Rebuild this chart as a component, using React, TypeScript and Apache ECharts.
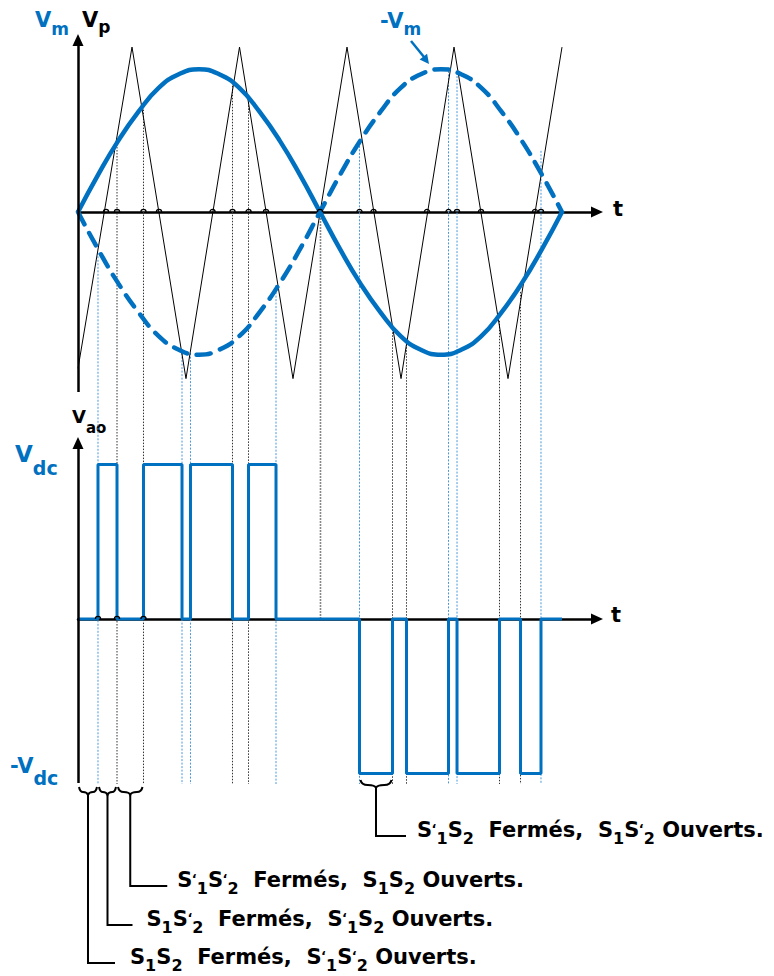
import React, { useEffect, useRef } from "react";
import * as echarts from "echarts";

// Time is a fraction of one period of the modulating wave.
const modT = [0, 0.0417, 0.0833, 0.125, 0.1667, 0.2083, 0.25, 0.2917, 0.3333, 0.375, 0.4167, 0.4583, 0.5, 0.5417, 0.5833, 0.625, 0.6667, 0.7083, 0.75, 0.7917, 0.8333, 0.875, 0.9167, 0.9583, 1];
// Modulating wave Vm and its inverse -Vm
const vm = [0, 0.22, 0.42, 0.59, 0.73, 0.81, 0.84, 0.81, 0.73, 0.59, 0.42, 0.22, 0, -0.22, -0.42, -0.59, -0.73, -0.81, -0.84, -0.81, -0.73, -0.59, -0.42, -0.22, 0];
const vmInv = [0, -0.22, -0.42, -0.59, -0.73, -0.81, -0.84, -0.81, -0.73, -0.59, -0.42, -0.22, 0, 0.22, 0.42, 0.59, 0.73, 0.81, 0.84, 0.81, 0.73, 0.59, 0.42, 0.22, 0];

// Triangular carrier Vp (vertices)
const carrierT = [0, 0.1116, 0.2231, 0.3337, 0.4442, 0.5558, 0.6674, 0.7769, 0.8884, 1];
const carrierV = [-0.92, 0.97, -0.98, 0.97, -0.98, 0.97, -0.98, 0.97, -0.98, 0.97];
// Where the carrier crosses the t axis
const carrierZeroT = [0.0579, 0.1674, 0.2779, 0.3884, 0.5, 0.6105, 0.7211, 0.8326, 0.9442];

// Switching instants: comparison of Vm / -Vm with the carrier
const switchT = [0.0413, 0.0806, 0.1353, 0.2149, 0.2324, 0.3192, 0.3523, 0.4091, 0.5816, 0.6498, 0.6787, 0.7655, 0.7831, 0.8709, 0.9143, 0.9566];
const switchLevel = [-0.24, 0.4, 0.62, -0.83, -0.83, 0.76, 0.68, -0.43, 0.41, -0.69, -0.76, 0.83, 0.82, -0.64, -0.47, 0.36];
const switchRef = ["-Vm", "Vm", "Vm", "-Vm", "-Vm", "Vm", "Vm", "-Vm", "-Vm", "Vm", "Vm", "-Vm", "-Vm", "Vm", "Vm", "-Vm"];
const zeroCrossT = 0.501;

// Output voltage Vao (in units of Vdc), level held from each instant
const vaoT = [0, 0.0413, 0.0806, 0.1353, 0.2149, 0.2324, 0.3192, 0.3523, 0.4091, 0.5816, 0.6498, 0.6787, 0.7655, 0.7831, 0.8709, 0.9143, 0.9566, 1];
const vaoLevel = [0, 1, 0, 1, 0, 1, 0, 1, 0, -1, 0, -1, 0, -1, 0, -1, 0, 0];
// Line jumps on the Vao time axis
const vaoHopT = [0.0413, 0.0806, 0.1353];

// Switch states over marked intervals
const stateFrom = [0, 0.0413, 0.0806, 0.5816];
const stateTo = [0.0413, 0.0806, 0.1353, 0.6498];
const stateText = [
  "S{1}S{2}  Fermés,  S{'1}S{'2} Ouverts.",
  "S{1}S{'2}  Fermés,  S{'1}S{2} Ouverts.",
  "S{'1}S{'2}  Fermés,  S{1}S{2} Ouverts.",
  "S{'1}S{2}  Fermés,  S{1}S{'2} Ouverts.",
];

const BLUE = "#0070C0";
const FONT = '"DejaVu Sans", "Liberation Sans", sans-serif';

// page geometry (px)
const G_LEFT = 78;
const G_TOP = 10;
const G_BOTTOM = 970;
const T_END = 597;
const T_UNIT = 484;
const TOP = { zero: 212, unit: 170 };
const BOT = { zero: 619, unit: 154.5 };
const LINE_END_PX = 784;

const annotLayout = [
  { top: 787, lead: 963, arm: 27, gap: 15 },
  { top: 787, lead: 925, arm: 25, gap: 14 },
  { top: 787, lead: 886, arm: 37, gap: 10 },
  { top: 780, lead: 836, arm: 30, gap: 11 },
];

let measureCtx: CanvasRenderingContext2D | null = null;
function textWidth(s: string, size: number) {
  if (!measureCtx) measureCtx = document.createElement("canvas").getContext("2d");
  measureCtx!.font = `bold ${size}px ${FONT}`;
  return measureCtx!.measureText(s).width;
}

const CENTRAL = 0.346; // DejaVu: central baseline above the alphabetic one, in em

function textEl(s: string, x: number, baseline: number, size: number, fill: string) {
  return {
    type: "text",
    silent: true,
    style: {
      text: s,
      x,
      y: baseline - CENTRAL * size,
      font: `bold ${size}px ${FONT}`,
      fill,
      align: "left",
      verticalAlign: "middle",
    },
  };
}

// "S{'1}" -> S, prime at the top right, then subscript 1
function richLabel(markup: string, x0: number, baseline: number, fill: string, main: number, sub: number, drop: number) {
  const out: any[] = [];
  let x = x0;
  const space = textWidth(" ", main);
  const primeSize = Math.round(sub * 0.8);
  for (const part of markup.split(/(\{'?[^}]*\})/)) {
    if (!part) continue;
    const m = /^\{('?)([^}]*)\}$/.exec(part);
    if (m) {
      if (m[1]) {
        out.push(textEl("\u2018", x - 0.5, baseline - 4, primeSize, fill));
        x += textWidth("\u2018", primeSize) - 0.5;
      }
      out.push(textEl(m[2], x, baseline + drop, sub, fill));
      x += textWidth(m[2], sub);
    } else {
      part.split(" ").forEach((w, i) => {
        if (i > 0) x += space;
        if (w) {
          out.push(textEl(w, x, baseline, main, fill));
          x += textWidth(w, main);
        }
      });
    }
  }
  return out;
}

function hopItem(_p: any, api: any) {
  const c = api.coord([api.value(0), 0]);
  const r = 2.6;
  return {
    type: "path",
    shape: { pathData: `M${c[0] - r} ${c[1]} A${r} ${r} 0 0 1 ${c[0] + r} ${c[1]}` },
    style: { stroke: "#000", fill: "none", lineWidth: 1.3 },
  };
}

function buildOption() {
  const xMax = (T_END - G_LEFT) / T_UNIT;
  const topMin = -(G_BOTTOM - TOP.zero) / TOP.unit;
  const topMax = (TOP.zero - G_TOP) / TOP.unit;
  const botMin = -(G_BOTTOM - BOT.zero) / BOT.unit;
  const botMax = (BOT.zero - G_TOP) / BOT.unit;
  const lineEndTop = (TOP.zero - LINE_END_PX) / TOP.unit;
  const botZeroInTop = (TOP.zero - BOT.zero) / TOP.unit;

  const axisStyle = { color: "#000", width: 2.5 };
  const hidden = { axisTick: { show: false }, axisLabel: { show: false }, splitLine: { show: false } };

  const switchData = switchT
    .map((t, i) => [t, switchLevel[i], switchRef[i] === "Vm" ? 0 : 1])
    .concat([[zeroCrossT, 0, 2]]);
  const hopT = carrierZeroT.concat(switchT.filter((_, i) => switchLevel[i] > 0));

  const graphicEls: any[] = [
    ...richLabel("V{m}", 35, 27, BLUE, 21, 17, 8),
    ...richLabel("V{p}", 82, 27, "#000", 21, 17, 6),
    ...richLabel("-V{m}", 380, 28, BLUE, 21, 17, 7),
    ...richLabel("t", 613, 216, "#000", 21, 0, 0),
    ...richLabel("t", 611, 622, "#000", 21, 0, 0),
    ...richLabel("V{ao}", 72, 423, "#000", 18, 15, 10),
    ...richLabel("V{dc}", 15, 462, BLUE, 23, 19, 13),
    ...richLabel("-V{dc}", 10, 773, BLUE, 21, 19, 12),
    {
      type: "line",
      silent: true,
      shape: { x1: 411, y1: 41, x2: 424, y2: 57 },
      style: { stroke: BLUE, lineWidth: 2.5 },
    },
    {
      type: "polygon",
      silent: true,
      shape: { points: [[429, 64], [427.1, 53.8], [419.6, 59.6]] },
      style: { fill: BLUE },
    },
  ];

  return {
    animation: false,
    backgroundColor: "#fff",
    grid: { left: G_LEFT, top: G_TOP, width: T_END - G_LEFT, height: G_BOTTOM - G_TOP, containLabel: false },
    xAxis: [0, 1].map((k) => ({
      type: "value",
      gridIndex: 0,
      min: 0,
      max: xMax,
      position: "bottom",
      axisLine: {
        show: true,
        onZero: true,
        onZeroAxisIndex: k,
        symbol: ["none", "triangle"],
        symbolSize: [11, 12],
        lineStyle: axisStyle,
      },
      ...hidden,
    })),
    yAxis: [
      { type: "value", gridIndex: 0, min: topMin, max: topMax, axisLine: { show: false }, ...hidden },
      { type: "value", gridIndex: 0, min: botMin, max: botMax, axisLine: { show: false }, ...hidden },
    ],
    graphic: { elements: graphicEls },
    series: [
      {
        type: "custom",
        name: "commutations",
        xAxisIndex: 0,
        yAxisIndex: 0,
        clip: false,
        silent: true,
        z: 1,
        data: switchData,
        renderItem: (_p: any, api: any) => {
          const t = api.value(0);
          const kind = api.value(2);
          const a = api.coord([t, api.value(1)]);
          const b = api.coord([t, kind === 2 ? botZeroInTop : lineEndTop]);
          const style =
            kind === 0
              ? { stroke: "#333", lineWidth: 1, lineDash: [1.5, 1.5] }
              : kind === 1
              ? { stroke: "#4a98dc", lineWidth: 1, lineDash: [2, 1.5] }
              : { stroke: "#888", lineWidth: 1.6, lineDash: [2, 1] };
          return { type: "line", shape: { x1: a[0], y1: a[1], x2: b[0], y2: b[1] }, style };
        },
      },
      {
        type: "line",
        name: "Vp",
        xAxisIndex: 0,
        yAxisIndex: 0,
        data: carrierT.map((t, i) => [t, carrierV[i]]),
        symbol: "none",
        clip: false,
        silent: true,
        z: 2,
        lineStyle: { color: "#000", width: 1 },
      },
      {
        type: "line",
        name: "-Vm",
        xAxisIndex: 0,
        yAxisIndex: 0,
        data: modT.map((t, i) => [t, vmInv[i]]),
        smooth: true,
        symbol: "none",
        clip: false,
        silent: true,
        z: 3,
        lineStyle: { color: BLUE, width: 4.5, type: [14, 10], cap: "round" },
      },
      {
        type: "line",
        name: "Vm",
        xAxisIndex: 0,
        yAxisIndex: 0,
        data: modT.map((t, i) => [t, vm[i]]),
        smooth: true,
        symbol: "none",
        clip: false,
        silent: true,
        z: 4,
        lineStyle: { color: BLUE, width: 4.5 },
        markLine: {
          silent: true,
          symbol: ["none", "triangle"],
          symbolSize: [11, 12],
          label: { show: false },
          lineStyle: { color: "#000", width: 2.5, type: "solid" },
          data: [[{ coord: [0, -(392 - TOP.zero) / TOP.unit] }, { coord: [0, (TOP.zero - 40) / TOP.unit] }]],
        },
      },
      {
        type: "custom",
        name: "sauts",
        xAxisIndex: 0,
        yAxisIndex: 0,
        clip: false,
        silent: true,
        z: 5,
        data: hopT.map((t) => [t, 0]),
        renderItem: hopItem,
      },
      {
        type: "line",
        name: "Vao",
        xAxisIndex: 1,
        yAxisIndex: 1,
        data: vaoT.map((t, i) => [t, vaoLevel[i]]),
        step: "end",
        symbol: "none",
        clip: false,
        silent: true,
        z: 3,
        lineStyle: { color: BLUE, width: 3 },
        markLine: {
          silent: true,
          symbol: ["none", "triangle"],
          symbolSize: [11, 12],
          label: { show: false },
          lineStyle: { color: "#000", width: 2.5, type: "solid" },
          data: [[{ coord: [0, (BOT.zero - 783) / BOT.unit] }, { coord: [0, (BOT.zero - 443) / BOT.unit] }]],
        },
      },
      {
        type: "custom",
        name: "sauts Vao",
        xAxisIndex: 1,
        yAxisIndex: 1,
        clip: false,
        silent: true,
        z: 5,
        data: vaoHopT.map((t) => [t, 0]),
        renderItem: hopItem,
      },
      {
        type: "custom",
        name: "etats",
        xAxisIndex: 1,
        yAxisIndex: 1,
        clip: false,
        silent: true,
        z: 6,
        data: stateFrom.map((f, i) => [f, stateTo[i]]),
        renderItem: (p: any, api: any) => {
          const i = p.dataIndex;
          const L = annotLayout[i];
          const x0 = api.coord([api.value(0), 0])[0];
          const x1 = api.coord([api.value(1), 0])[0];
          const cx = (x0 + x1) / 2;
          const top = L.top;
          const d = 8;
          const brace =
            `M${x0 + 1} ${top} Q${x0 + 2} ${top + 5} ${(x0 + cx) / 2} ${top + 5} ` +
            `Q${cx - 1} ${top + 5} ${cx} ${top + d} Q${cx + 1} ${top + 5} ${(x1 + cx) / 2} ${top + 5} ` +
            `Q${x1 - 2} ${top + 5} ${x1 - 1} ${top}`;
          return {
            type: "group",
            children: [
              { type: "path", shape: { pathData: brace }, style: { stroke: "#000", fill: "none", lineWidth: 2 } },
              {
                type: "polyline",
                shape: { points: [[cx, top + d], [cx, L.lead], [cx + L.arm, L.lead]] },
                style: { stroke: "#000", fill: "none", lineWidth: 2 },
              },
              ...richLabel(stateText[i], cx + L.arm + L.gap, L.lead + 1, "#000", 21, 16, 7),
            ],
          };
        },
      },
    ],
  };
}

export default function App() {
  const ref = useRef<HTMLDivElement>(null);
  useEffect(() => {
    const chart = echarts.init(ref.current!, null, { renderer: "svg" });
    chart.setOption(buildOption() as any);
    return () => chart.dispose();
  }, []);
  return (
    <div
      ref={ref}
      style={{ position: "fixed", left: 0, top: 0, width: 774, height: 976, background: "#fff" }}
    />
  );
}
